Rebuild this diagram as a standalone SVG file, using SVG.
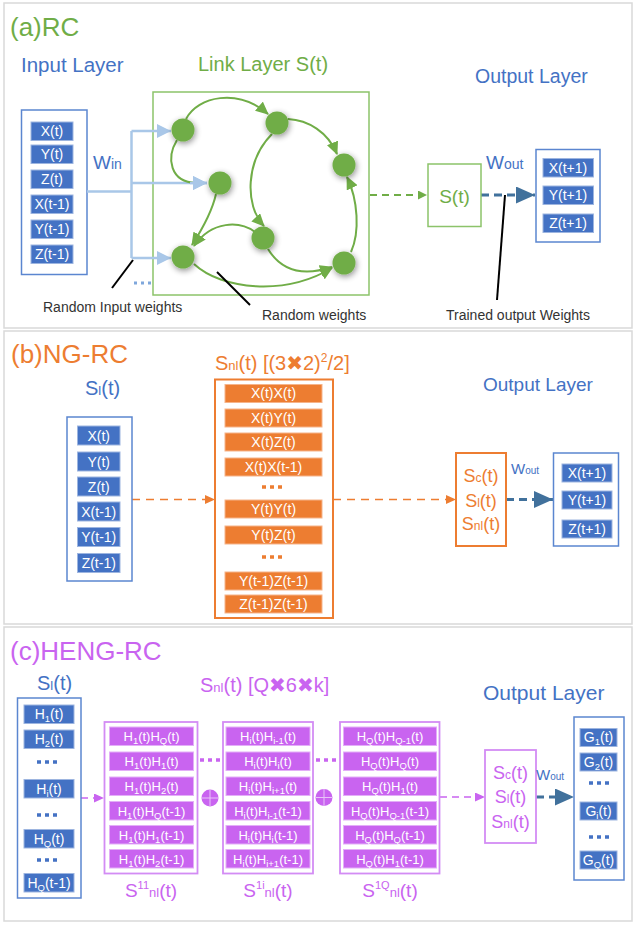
<svg xmlns="http://www.w3.org/2000/svg" width="636" height="925" viewBox="0 0 636 925">
<style>
text{font-family:"Liberation Sans","DejaVu Sans",sans-serif}
.frame{fill:#fff;stroke:#D9D9D9;stroke-width:1.5}
.bbox{fill:#fff;stroke:#5B86D0;stroke-width:1.5}
.bcell{fill:#4472C4;stroke:#9DB5E0;stroke-width:1}
.ocell{fill:#ED7D31;stroke:#F6B48A;stroke-width:1}
.pcell{fill:#C964F0;stroke:#E3AEF8;stroke-width:1}
.gbox{fill:#fff;stroke:#8CC36A;stroke-width:1.5}
.obox{fill:#fff;stroke:#ED7D31;stroke-width:2}
.pbox{fill:#fff;stroke:#D38CF4;stroke-width:1.8}
.ct{fill:#fff;font-size:14px;text-anchor:middle}
.ctp{fill:#fff;font-size:13px;text-anchor:middle}
.sb{font-size:9.5px}
.blue{fill:#4472C4}
.green{fill:#70AD47}
.orange{fill:#ED7D31}
.purple{fill:#C964F0}
.dark{fill:#333;font-size:14px}
.node{fill:#70AD47;filter:url(#sh)}
.edge{fill:none;stroke:#70AD47;stroke-width:2;marker-end:url(#ag)}
.lb{fill:none;stroke:#A9C7E8;stroke-width:2.5}
.ptr{stroke:#000;stroke-width:2}
.dotsb{stroke:#4472C4;stroke-width:3.5;stroke-dasharray:4 4}
</style>
<defs>
<filter id="sh" x="-50%" y="-50%" width="200%" height="200%">
<feGaussianBlur in="SourceAlpha" stdDeviation="3"/>
<feOffset dx="1" dy="2" result="b"/>
<feComponentTransfer><feFuncA type="linear" slope="0.45"/></feComponentTransfer>
<feMerge><feMergeNode/><feMergeNode in="SourceGraphic"/></feMerge>
</filter>
<marker id="ag" markerUnits="userSpaceOnUse" markerWidth="13" markerHeight="12" refX="12" refY="6" orient="auto"><path d="M0,0 L13,6 L0,12 z" fill="#70AD47"/></marker>
<marker id="agS" markerUnits="userSpaceOnUse" markerWidth="9" markerHeight="9" refX="9" refY="4.5" orient="auto"><path d="M0,0 L9,4.5 L0,9 z" fill="#70AD47"/></marker>
<marker id="alb" markerUnits="userSpaceOnUse" markerWidth="14" markerHeight="14" refX="14" refY="7" orient="auto"><path d="M0,0 L14,7 L0,14 z" fill="#A9C7E8"/></marker>
<marker id="adb" markerUnits="userSpaceOnUse" markerWidth="19" markerHeight="17" refX="19" refY="8.5" orient="auto"><path d="M0,0 L19,8.5 L0,17 z" fill="#41719C"/></marker>
<marker id="aor" markerUnits="userSpaceOnUse" markerWidth="10" markerHeight="9" refX="10" refY="4.5" orient="auto"><path d="M0,0 L10,4.5 L0,9 z" fill="#ED7D31"/></marker>
<marker id="apu" markerUnits="userSpaceOnUse" markerWidth="10" markerHeight="9" refX="10" refY="4.5" orient="auto"><path d="M0,0 L10,4.5 L0,9 z" fill="#C964F0"/></marker>
</defs>

<rect class="frame" x="4" y="3" width="628" height="325"/>
<rect class="frame" x="4" y="331" width="628" height="293"/>
<rect class="frame" x="4" y="627" width="628" height="294"/>

<!-- ===== Panel (a) ===== -->
<text x="10" y="36" class="green" font-size="26">(a)RC</text>
<text x="21" y="72" class="blue" font-size="20.5">Input Layer</text>
<text x="198" y="71" class="green" font-size="20">Link Layer S(t)</text>
<text x="475" y="83" class="blue" font-size="19.5">Output Layer</text>

<g id="a-input">
<rect class="bbox" x="21.5" y="110" width="65.5" height="164.5"/>
<rect class="bcell" x="31" y="122" width="42" height="18.5"/><text class="ct" x="52" y="136">X(t)</text>
<rect class="bcell" x="31" y="145" width="42" height="18.5"/><text class="ct" x="52" y="159">Y(t)</text>
<rect class="bcell" x="31" y="170" width="42" height="18.5"/><text class="ct" x="52" y="184">Z(t)</text>
<rect class="bcell" x="31" y="195" width="42" height="18.5"/><text class="ct" x="52" y="209">X(t-1)</text>
<rect class="bcell" x="31" y="220" width="42" height="18.5"/><text class="ct" x="52" y="234">Y(t-1)</text>
<rect class="bcell" x="31" y="245" width="42" height="18.5"/><text class="ct" x="52" y="259">Z(t-1)</text>
</g>
<g id="a-win"><text x="93" y="169" class="blue"><tspan font-size="19">W</tspan><tspan font-size="14">in</tspan></text></g>

<g id="a-link"><rect class="gbox" x="153" y="92" width="216" height="203"/></g>

<g id="connectors">
<path class="lb" d="M87,191.5 H131.5 M131.5,131 V258"/>
<path class="lb" d="M131.5,131 H171" marker-end="url(#alb)"/>
<path class="lb" d="M131.5,183 H207" marker-end="url(#alb)"/>
<path class="lb" d="M131.5,258 H171" marker-end="url(#alb)"/>
<line x1="134" y1="283" x2="152" y2="283" stroke="#7FA7DC" stroke-width="3" stroke-dasharray="3 4"/>
<path class="edge" d="M186,119 C198,96 238,88 268,114"/>
<path class="edge" d="M288,119 C308,120 328,132 337,154"/>
<path fill="none" stroke="#70AD47" stroke-width="2" d="M177,140 C166,158 170,182 196,183"/>
<path class="edge" d="M216,194 C212,212 203,228 192,245"/>
<path class="edge" d="M255,232 C240,221 212,220 194,246"/>
<path class="edge" d="M272,134 C246,160 244,205 264,226"/>
<path class="edge" d="M268,249 C282,272 305,276 332,267"/>
<path class="edge" d="M194,264 C222,290 285,296 332,268"/>
<path class="edge" d="M351,252 C360,232 358,200 347,177"/>
<path class="lb" d="M190,183 H207" marker-end="url(#alb)"/>
<line x1="370" y1="195" x2="427" y2="195" stroke="#70AD47" stroke-width="2" stroke-dasharray="7 5" marker-end="url(#agS)"/>
<line x1="481" y1="195" x2="535" y2="195" stroke="#41719C" stroke-width="3" stroke-dasharray="8 5" marker-end="url(#adb)"/>
<line x1="132" y1="499.5" x2="215" y2="499.5" stroke="#ED7D31" stroke-width="1.6" stroke-dasharray="8 6" marker-end="url(#aor)"/>
<line x1="333" y1="499.5" x2="456" y2="499.5" stroke="#ED7D31" stroke-width="1.6" stroke-dasharray="8 6" marker-end="url(#aor)"/>
<line x1="506" y1="499.5" x2="553" y2="499.5" stroke="#41719C" stroke-width="3" stroke-dasharray="8 5" marker-end="url(#adb)"/>
<line x1="81" y1="798" x2="104" y2="798" stroke="#C964F0" stroke-width="1.6" stroke-dasharray="7 5" marker-end="url(#apu)"/>
<line x1="440" y1="797" x2="485" y2="797" stroke="#C964F0" stroke-width="1.6" stroke-dasharray="7 5" marker-end="url(#apu)"/>
<line x1="536" y1="797" x2="574" y2="797" stroke="#41719C" stroke-width="3" stroke-dasharray="8 5" marker-end="url(#adb)"/>
</g>

<g id="a-n1"><circle class="node" cx="183" cy="130" r="11.5"/></g>
<g id="a-n2"><circle class="node" cx="220" cy="183" r="11.5"/></g>
<g id="a-n3"><circle class="node" cx="183" cy="257" r="11.5"/></g>
<g id="a-n4"><circle class="node" cx="277" cy="123" r="11.5"/></g>
<g id="a-n5"><circle class="node" cx="344" cy="165" r="11.5"/></g>
<g id="a-n6"><circle class="node" cx="263" cy="238" r="11.5"/></g>
<g id="a-n7"><circle class="node" cx="344" cy="263" r="11.5"/></g>

<g id="a-labels">
<line class="ptr" x1="112" y1="288" x2="133" y2="260"/>
<text class="dark" x="43" y="312">Random Input weights</text>
<line class="ptr" x1="217" y1="272" x2="250" y2="305"/>
<text class="dark" x="262" y="320" font-size="13.5">Random weights</text>
<line class="ptr" x1="505" y1="195" x2="497" y2="300"/>
<text class="dark" x="446" y="320" font-size="14.5">Trained output Weights</text>
</g>

<g id="a-st"><rect class="gbox" x="428" y="164" width="53" height="62.5"/><text x="454.5" y="203" class="green" font-size="19" text-anchor="middle">S(t)</text></g>
<g id="a-wout"><text x="486" y="169" class="blue"><tspan font-size="19">W</tspan><tspan font-size="14">out</tspan></text></g>
<g id="a-output">
<rect class="bbox" x="536" y="149.5" width="64" height="92.5"/>
<rect class="bcell" x="543" y="158.5" width="50.5" height="18.5"/><text class="ct" x="568" y="172.5">X(t+1)</text>
<rect class="bcell" x="543" y="186" width="50.5" height="18.5"/><text class="ct" x="568" y="200">Y(t+1)</text>
<rect class="bcell" x="543" y="214" width="50.5" height="18.5"/><text class="ct" x="568" y="228">Z(t+1)</text>
</g>

<!-- ===== Panel (b) ===== -->
<text x="11" y="363" class="orange" font-size="26">(b)NG-RC</text>
<text x="85" y="395" class="blue" font-size="20">S<tspan font-size="13">l</tspan>(t)</text>
<text x="483" y="391" class="blue" font-size="19">Output Layer</text>

<g id="b-input">
<rect class="bbox" x="67" y="417" width="65" height="164"/>
<rect class="bcell" x="77.5" y="426" width="42.5" height="19"/><text class="ct" x="98.75" y="440.5">X(t)</text>
<rect class="bcell" x="77.5" y="452" width="42.5" height="19"/><text class="ct" x="98.75" y="466.5">Y(t)</text>
<rect class="bcell" x="77.5" y="477" width="42.5" height="19"/><text class="ct" x="98.75" y="491.5">Z(t)</text>
<rect class="bcell" x="77.5" y="502" width="42.5" height="19"/><text class="ct" x="98.75" y="516.5">X(t-1)</text>
<rect class="bcell" x="77.5" y="527.5" width="42.5" height="19"/><text class="ct" x="98.75" y="542">Y(t-1)</text>
<rect class="bcell" x="77.5" y="553.5" width="42.5" height="19"/><text class="ct" x="98.75" y="568">Z(t-1)</text>
</g>

<g id="b-snl">
<text x="215" y="370" class="orange" font-size="20">S<tspan font-size="13">nl</tspan>(t) [(3✖2)<tspan font-size="12" dy="-8">2</tspan><tspan dy="8">/2]</tspan></text>
<rect class="obox" x="215" y="379.5" width="118" height="238.5"/>
<rect class="ocell" x="225" y="384.5" width="97" height="18"/><text class="ct" x="273.5" y="398">X(t)X(t)</text>
<rect class="ocell" x="225" y="409" width="97" height="18"/><text class="ct" x="273.5" y="422.5">X(t)Y(t)</text>
<rect class="ocell" x="225" y="433" width="97" height="18"/><text class="ct" x="273.5" y="446.5">X(t)Z(t)</text>
<rect class="ocell" x="225" y="458" width="97" height="18"/><text class="ct" x="273.5" y="471.5">X(t)X(t-1)</text>
<line x1="262" y1="487" x2="286" y2="487" stroke="#ED7D31" stroke-width="3.5" stroke-dasharray="4 4"/>
<rect class="ocell" x="225" y="500" width="97" height="18"/><text class="ct" x="273.5" y="513.5">Y(t)Y(t)</text>
<rect class="ocell" x="225" y="526" width="97" height="18"/><text class="ct" x="273.5" y="539.5">Y(t)Z(t)</text>
<line x1="262" y1="557" x2="286" y2="557" stroke="#ED7D31" stroke-width="3.5" stroke-dasharray="4 4"/>
<rect class="ocell" x="225" y="572" width="97" height="18"/><text class="ct" x="273.5" y="585.5">Y(t-1)Z(t-1)</text>
<rect class="ocell" x="225" y="595" width="97" height="18"/><text class="ct" x="273.5" y="608.5">Z(t-1)Z(t-1)</text>
</g>

<g id="b-sc">
<rect class="obox" x="456" y="453" width="50" height="93"/>
<text x="481" y="482" class="orange" font-size="18" text-anchor="middle">S<tspan font-size="12">c</tspan>(t)</text>
<text x="481" y="506.5" class="orange" font-size="18" text-anchor="middle">S<tspan font-size="12">l</tspan>(t)</text>
<text x="481" y="530" class="orange" font-size="18" text-anchor="middle">S<tspan font-size="12">nl</tspan>(t)</text>
</g>
<g id="b-wout"><text x="511" y="474" class="blue"><tspan font-size="15">W</tspan><tspan font-size="10">out</tspan></text></g>
<g id="b-output">
<rect class="bbox" x="553.5" y="453" width="65" height="93"/>
<rect class="bcell" x="562" y="464" width="50" height="18"/><text class="ct" x="587" y="477.5">X(t+1)</text>
<rect class="bcell" x="562" y="491" width="50" height="18"/><text class="ct" x="587" y="504.5">Y(t+1)</text>
<rect class="bcell" x="562" y="520" width="50" height="18"/><text class="ct" x="587" y="533.5">Z(t+1)</text>
</g>

<!-- ===== Panel (c) ===== -->
<text x="10" y="660" class="purple" font-size="26">(c)HENG-RC</text>
<text x="37" y="690" class="blue" font-size="20">S<tspan font-size="13">l</tspan>(t)</text>
<text x="200" y="692" class="purple" font-size="20">S<tspan font-size="13">nl</tspan>(t)  [Q✖6✖k]</text>
<text x="483" y="700" class="blue" font-size="21">Output Layer</text>

<g id="c-input">
<rect class="bbox" x="17.5" y="698" width="63.5" height="200"/>
<rect class="bcell" x="24" y="705" width="50" height="18.5"/><text class="ct" x="49" y="719">H<tspan class="sb" dy="3">1</tspan><tspan dy="-3">(t)</tspan></text>
<rect class="bcell" x="24" y="730" width="50" height="18.5"/><text class="ct" x="49" y="744">H<tspan class="sb" dy="3">2</tspan><tspan dy="-3">(t)</tspan></text>
<line class="dotsb" x1="37" y1="762" x2="61" y2="762"/>
<rect class="bcell" x="24" y="779.5" width="50" height="18.5"/><text class="ct" x="49" y="793.5">H<tspan class="sb" dy="3">i</tspan><tspan dy="-3">(t)</tspan></text>
<line class="dotsb" x1="37" y1="815" x2="61" y2="815"/>
<rect class="bcell" x="24" y="829.5" width="50" height="18.5"/><text class="ct" x="49" y="843.5">H<tspan class="sb" dy="3">Q</tspan><tspan dy="-3">(t)</tspan></text>
<line class="dotsb" x1="37" y1="860" x2="61" y2="860"/>
<rect class="bcell" x="24" y="873.5" width="50" height="18.5"/><text class="ct" x="49" y="887.5">H<tspan class="sb" dy="3">Q</tspan><tspan dy="-3">(t-1)</tspan></text>
</g>

<g id="c-block1">
<rect class="pbox" x="104.5" y="722" width="93" height="151.5"/>
<rect class="pcell" x="109.5" y="727" width="84" height="18.5"/><text class="ctp" x="151.5" y="741">H<tspan class="sb" dy="3">1</tspan><tspan dy="-3">(t)H</tspan><tspan class="sb" dy="3">Q</tspan><tspan dy="-3">(t)</tspan></text>
<rect class="pcell" x="109.5" y="752" width="84" height="18.5"/><text class="ctp" x="151.5" y="766">H<tspan class="sb" dy="3">1</tspan><tspan dy="-3">(t)H</tspan><tspan class="sb" dy="3">1</tspan><tspan dy="-3">(t)</tspan></text>
<rect class="pcell" x="109.5" y="777" width="84" height="18.5"/><text class="ctp" x="151.5" y="791">H<tspan class="sb" dy="3">1</tspan><tspan dy="-3">(t)H</tspan><tspan class="sb" dy="3">2</tspan><tspan dy="-3">(t)</tspan></text>
<rect class="pcell" x="109.5" y="801.5" width="84" height="18.5"/><text class="ctp" x="151.5" y="815.5">H<tspan class="sb" dy="3">1</tspan><tspan dy="-3">(t)H</tspan><tspan class="sb" dy="3">Q</tspan><tspan dy="-3">(t-1)</tspan></text>
<rect class="pcell" x="109.5" y="825.5" width="84" height="18.5"/><text class="ctp" x="151.5" y="839.5">H<tspan class="sb" dy="3">1</tspan><tspan dy="-3">(t)H</tspan><tspan class="sb" dy="3">1</tspan><tspan dy="-3">(t-1)</tspan></text>
<rect class="pcell" x="109.5" y="849.5" width="84" height="18.5"/><text class="ctp" x="151.5" y="863.5">H<tspan class="sb" dy="3">1</tspan><tspan dy="-3">(t)H</tspan><tspan class="sb" dy="3">2</tspan><tspan dy="-3">(t-1)</tspan></text>
<text x="151" y="897" class="purple" font-size="19" text-anchor="middle">S<tspan font-size="11" dy="-8">11</tspan><tspan font-size="13" dy="8">nl</tspan>(t)</text>
</g>

<g id="c-sep1">
<line x1="200" y1="760" x2="224" y2="760" stroke="#C964F0" stroke-width="3.5" stroke-dasharray="4 4"/>
<circle cx="210" cy="798" r="8.5" fill="#C964F0"/>
<path d="M201.5,798 H218.5 M210,789.5 V806.5" stroke="#E8C4F8" stroke-width="1"/>
</g>

<g id="c-block2">
<rect class="pbox" x="223" y="722" width="90" height="151.5"/>
<rect class="pcell" x="226" y="727" width="84" height="18.5"/><text class="ctp" x="268" y="741">H<tspan class="sb" dy="3">i</tspan><tspan dy="-3">(t)H</tspan><tspan class="sb" dy="3">i-1</tspan><tspan dy="-3">(t)</tspan></text>
<rect class="pcell" x="226" y="752" width="84" height="18.5"/><text class="ctp" x="268" y="766">H<tspan class="sb" dy="3">i</tspan><tspan dy="-3">(t)H</tspan><tspan class="sb" dy="3">i</tspan><tspan dy="-3">(t)</tspan></text>
<rect class="pcell" x="226" y="777" width="84" height="18.5"/><text class="ctp" x="268" y="791">H<tspan class="sb" dy="3">i</tspan><tspan dy="-3">(t)H</tspan><tspan class="sb" dy="3">i+1</tspan><tspan dy="-3">(t)</tspan></text>
<rect class="pcell" x="226" y="801.5" width="84" height="18.5"/><text class="ctp" x="268" y="815.5">H<tspan class="sb" dy="3">i</tspan><tspan dy="-3">(t)H</tspan><tspan class="sb" dy="3">i-1</tspan><tspan dy="-3">(t-1)</tspan></text>
<rect class="pcell" x="226" y="825.5" width="84" height="18.5"/><text class="ctp" x="268" y="839.5">H<tspan class="sb" dy="3">i</tspan><tspan dy="-3">(t)H</tspan><tspan class="sb" dy="3">i</tspan><tspan dy="-3">(t-1)</tspan></text>
<rect class="pcell" x="226" y="849.5" width="84" height="18.5"/><text class="ctp" x="268" y="863.5">H<tspan class="sb" dy="3">i</tspan><tspan dy="-3">(t)H</tspan><tspan class="sb" dy="3">i+1</tspan><tspan dy="-3">(t-1)</tspan></text>
<text x="268" y="897" class="purple" font-size="19" text-anchor="middle">S<tspan font-size="11" dy="-8">1i</tspan><tspan font-size="13" dy="8">nl</tspan>(t)</text>
</g>

<g id="c-sep2">
<line x1="316" y1="760" x2="340" y2="760" stroke="#C964F0" stroke-width="3.5" stroke-dasharray="4 4"/>
<circle cx="324" cy="797.5" r="8.5" fill="#C964F0"/>
<path d="M315.5,797.5 H332.5 M324,789 V806" stroke="#E8C4F8" stroke-width="1"/>
</g>

<g id="c-block3">
<rect class="pbox" x="340" y="722" width="99.5" height="151.5"/>
<rect class="pcell" x="343.5" y="727" width="93" height="18.5"/><text class="ctp" x="390" y="741">H<tspan class="sb" dy="3">Q</tspan><tspan dy="-3">(t)H</tspan><tspan class="sb" dy="3">Q-1</tspan><tspan dy="-3">(t)</tspan></text>
<rect class="pcell" x="343.5" y="752" width="93" height="18.5"/><text class="ctp" x="390" y="766">H<tspan class="sb" dy="3">Q</tspan><tspan dy="-3">(t)H</tspan><tspan class="sb" dy="3">Q</tspan><tspan dy="-3">(t)</tspan></text>
<rect class="pcell" x="343.5" y="777" width="93" height="18.5"/><text class="ctp" x="390" y="791">H<tspan class="sb" dy="3">Q</tspan><tspan dy="-3">(t)H</tspan><tspan class="sb" dy="3">1</tspan><tspan dy="-3">(t)</tspan></text>
<rect class="pcell" x="343.5" y="801.5" width="93" height="18.5"/><text class="ctp" x="390" y="815.5">H<tspan class="sb" dy="3">Q</tspan><tspan dy="-3">(t)H</tspan><tspan class="sb" dy="3">Q-1</tspan><tspan dy="-3">(t-1)</tspan></text>
<rect class="pcell" x="343.5" y="825.5" width="93" height="18.5"/><text class="ctp" x="390" y="839.5">H<tspan class="sb" dy="3">Q</tspan><tspan dy="-3">(t)H</tspan><tspan class="sb" dy="3">Q</tspan><tspan dy="-3">(t-1)</tspan></text>
<rect class="pcell" x="343.5" y="849.5" width="93" height="18.5"/><text class="ctp" x="390" y="863.5">H<tspan class="sb" dy="3">Q</tspan><tspan dy="-3">(t)H</tspan><tspan class="sb" dy="3">1</tspan><tspan dy="-3">(t-1)</tspan></text>
<text x="390" y="897" class="purple" font-size="19" text-anchor="middle">S<tspan font-size="11" dy="-8">1Q</tspan><tspan font-size="13" dy="8">nl</tspan>(t)</text>
</g>

<g id="c-sc">
<rect class="pbox" x="485" y="750" width="51" height="93"/>
<text x="510.5" y="779" class="purple" font-size="18" text-anchor="middle">S<tspan font-size="12">c</tspan>(t)</text>
<text x="510.5" y="803" class="purple" font-size="18" text-anchor="middle">S<tspan font-size="12">l</tspan>(t)</text>
<text x="510.5" y="828" class="purple" font-size="18" text-anchor="middle">S<tspan font-size="12">nl</tspan>(t)</text>
</g>
<g id="c-wout"><text x="536" y="780" class="blue"><tspan font-size="15">W</tspan><tspan font-size="10">out</tspan></text></g>
<g id="c-output">
<rect class="bbox" x="574" y="717" width="50" height="163"/>
<rect class="bcell" x="580" y="728.5" width="37" height="18"/><text class="ct" x="598.5" y="742">G<tspan class="sb" dy="3">1</tspan><tspan dy="-3">(t)</tspan></text>
<rect class="bcell" x="580" y="753" width="37" height="18"/><text class="ct" x="598.5" y="766.5">G<tspan class="sb" dy="3">2</tspan><tspan dy="-3">(t)</tspan></text>
<line class="dotsb" x1="589" y1="783" x2="613" y2="783"/>
<rect class="bcell" x="580" y="802" width="37" height="18"/><text class="ct" x="598.5" y="815.5">G<tspan class="sb" dy="3">i</tspan><tspan dy="-3">(t)</tspan></text>
<line class="dotsb" x1="589" y1="837" x2="613" y2="837"/>
<rect class="bcell" x="580" y="851" width="37" height="18"/><text class="ct" x="598.5" y="864.5">G<tspan class="sb" dy="3">Q</tspan><tspan dy="-3">(t)</tspan></text>
</g>
</svg>
